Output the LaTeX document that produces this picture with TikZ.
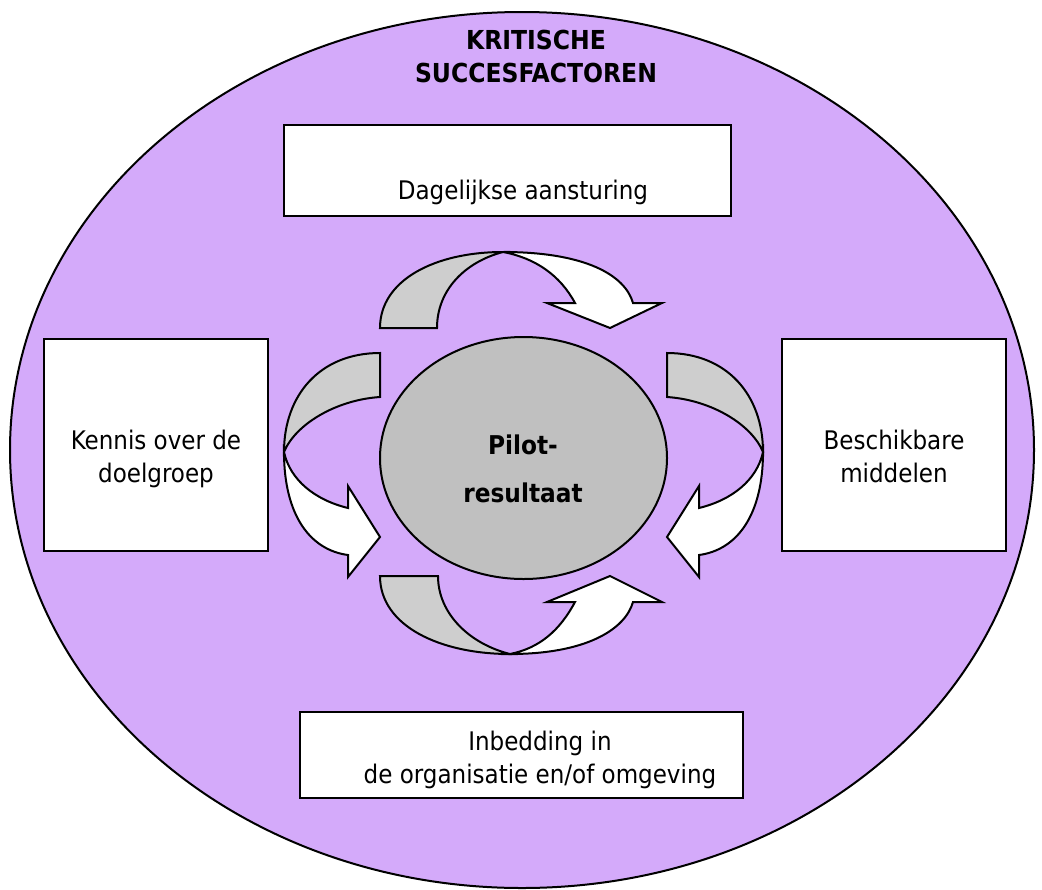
\documentclass[tikz,border=0pt]{standalone}
\usepackage{fontspec}
\setmainfont{DejaVu Sans Condensed}
\usetikzlibrary{shapes.geometric}
\definecolor{lila}{RGB}{212,170,250}
\definecolor{pijlgrijs}{RGB}{206,206,206}
\definecolor{kern}{RGB}{192,192,192}
\begin{document}
\begin{tikzpicture}[x=0.75pt,y=-0.75pt,
  box/.style={draw,line width=1.8pt,fill=white,inner sep=0pt},
  txt/.style={font=\fontsize{19.2}{24.75}\selectfont,align=center,inner sep=0pt},
  kop/.style={font=\fontsize{19.6}{24.75}\selectfont\bfseries,align=center,inner sep=0pt},
  achter/.style={draw,line width=1.5pt,fill=pijlgrijs},
  voor/.style={draw,line width=1.5pt,fill=white}]

\useasboundingbox (0,0) rectangle (1042,889);
\draw[line width=1.5pt,fill=lila] (522,450) ellipse (512 and 438);

\node[kop] (titel) at (536,56) {KRITISCHE\\SUCCESFACTOREN};

% de vier factoren
\node[box,minimum width=335.25pt,minimum height=68.25pt] (aansturing) at (507.5,170.5) {};
\node[box,minimum width=168pt,minimum height=159pt] (kennis) at (156,445) {};
\node[box,minimum width=168pt,minimum height=159pt] (middelen) at (894,445) {};
\node[box,minimum width=332.25pt,minimum height=64.5pt] (inbedding) at (521.5,755) {};

\node[txt,anchor=base] (aansturingtxt) at (523,199) {Dagelijkse aansturing};
\node[txt] (kennistxt) at (156,459) {Kennis over de\\doelgroep};
\node[txt] (middelentxt) at (894,456) {Beschikbare\\middelen};
\node[txt] (inbeddingtxt) at (540,760) {Inbedding in\\de organisatie en/of omgeving};

% pijl boven
\draw[achter] (380,328) .. controls (380,280) and (435,252) .. (503,252)
  .. controls (465,262) and (437,290) .. (437,328) -- cycle;
\draw[voor] (503,252) .. controls (585,252) and (625,275) .. (633,303) -- (662,303) -- (610,328)
  -- (547,303) -- (575,303) .. controls (560,275) and (535,258) .. (503,252) -- cycle;

% pijl onder
\draw[achter] (380,576) .. controls (380,626) and (440,654) .. (510,654)
  .. controls (470,644) and (438,614) .. (438,576) -- cycle;
\draw[voor] (510,654) .. controls (585,654) and (625,630) .. (633,602) -- (662,602) -- (610,576)
  -- (547,602) -- (575,602) .. controls (560,630) and (540,648) .. (510,654) -- cycle;

% pijl links
\draw[achter] (380,353) .. controls (320,353) and (284,395) .. (284,452)
  .. controls (295,425) and (335,400) .. (380,397) -- cycle;
\draw[voor] (284,452) .. controls (284,515) and (310,550) .. (348,555) -- (348,577) -- (380,537)
  -- (348,486) -- (348,508) .. controls (315,500) and (290,480) .. (284,452) -- cycle;

% pijl rechts
\draw[achter] (667,353) .. controls (727,353) and (763,395) .. (763,452)
  .. controls (752,425) and (712,400) .. (667,397) -- cycle;
\draw[voor] (763,452) .. controls (763,515) and (737,550) .. (699,555) -- (699,577) -- (667,537)
  -- (699,486) -- (699,508) .. controls (732,500) and (757,480) .. (763,452) -- cycle;

\node[ellipse,draw,line width=1.5pt,fill=kern,minimum width=215.25pt,minimum height=181.5pt] (pilot) at (523.5,458) {};
\node[kop,font=\fontsize{19.4}{36}\selectfont\bfseries] (pilottxt) at (523,469) {Pilot-\\resultaat};
\end{tikzpicture}
\end{document}
